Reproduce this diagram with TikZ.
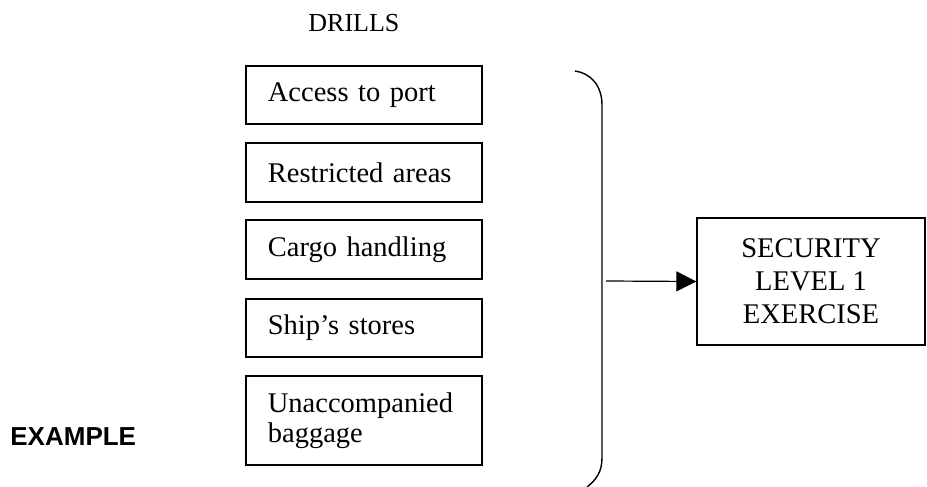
\documentclass[tikz,border=0pt]{standalone}
\usepackage{fontspec}
\setmainfont{Liberation Serif}
\newfontfamily\arialfont{Liberation Sans}
\usetikzlibrary{arrows.meta}
\begin{document}
\begin{tikzpicture}[x=0.5pt,y=-0.5pt,
  leftbox/.style={draw, line width=0.9pt, anchor=north west, minimum width=118pt,
    text width=96pt, inner xsep=11pt, inner ysep=0pt, align=left,
    font=\fontsize{14.25}{15}\selectfont},
  secbox/.style={draw, line width=0.7pt, minimum width=114pt, minimum height=63.5pt,
    inner sep=0pt, align=center, font=\fontsize{14.25}{16.5}\selectfont},
  bracestyle/.style={draw, line width=0.7pt},
  arrowstyle/.style={line width=0.6pt, -{Triangle[length=10pt,width=10pt]}}
]
\useasboundingbox (0,0) rectangle (927,487);

\node[anchor=base west, inner sep=0pt, font=\fontsize{13}{15}\selectfont] (drills) at (308,32) {DRILLS};

\node[leftbox, minimum height=29pt] (b1) at (245,65) {Access to port};
\node[leftbox, minimum height=29.5pt] (b2) at (245,142) {Restricted areas};
\node[leftbox, minimum height=29.5pt] (b3) at (245,219) {Cargo handling};
\node[leftbox, minimum height=29pt] (b4) at (245,298) {Ship’s stores};
\node[leftbox, minimum height=44.5pt] (b5) at (245,375) {Unaccompanied\\baggage};

\node[anchor=base west, inner sep=0pt, font=\arialfont\bfseries\fontsize{13}{15}\selectfont] (example) at (10,445) {EXAMPLE};

\draw[bracestyle] (575,71) .. controls (590,73) and (602,85) .. (602,105) -- (602,458) .. controls (602,472) and (596,480) .. (587,487);
\coordinate (bmid) at (606,281);

\node[secbox] (sec) at (811,281.5) {SECURITY\\LEVEL 1\\EXERCISE};

\draw[arrowstyle] (bmid) -- (sec.west);
\end{tikzpicture}
\end{document}
